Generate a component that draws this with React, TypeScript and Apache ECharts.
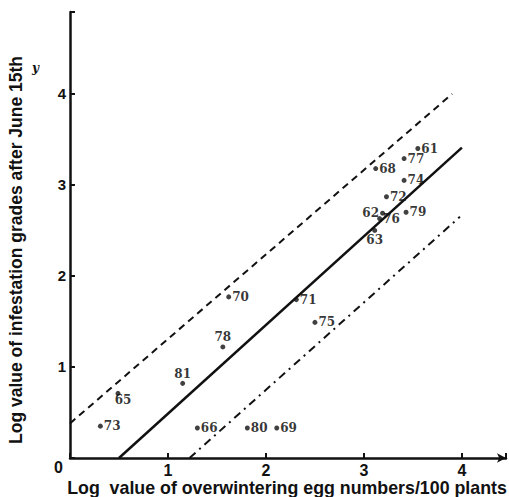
import React, { useEffect, useRef } from "react";
import * as echarts from "echarts";

// year labels and (log eggs, log infestation) readings
const years = ["61", "77", "68", "74", "72", "62", "76", "63", "79", "70", "71", "75", "78", "81", "66", "80", "69", "65", "73"];
const logEggs = [3.55, 3.41, 3.12, 3.41, 3.23, 3.19, 3.16, 3.11, 3.43, 1.62, 2.31, 2.5, 1.56, 1.15, 1.3, 1.81, 2.11, 0.49, 0.31];
const logInfest = [3.4, 3.29, 3.18, 3.05, 2.87, 2.69, 2.63, 2.5, 2.7, 1.77, 1.74, 1.49, 1.22, 0.82, 0.33, 0.33, 0.33, 0.71, 0.35];

// regression line and its bounds (end points)
const fitLine = [[0.5, 0], [4.0, 3.41]];
const upperBound = [[0, 0.38], [3.9, 4.0]];
const lowerBound = [[1.22, 0], [3.98, 2.65]];

const xTicks = ["0", "1", "2", "3", "4"];
const yTicks = ["0", "1", "2", "3", "4"];

const labelPlacement: Record<string, string> = {
  "78": "top",
  "81": "top",
  "63": "bottom",
  "65": "bottomRight",
  "62": "left",
};

export default function App() {
  const ref = useRef<HTMLDivElement>(null);
  useEffect(() => {
    if (!ref.current) return;
    const chart = echarts.init(ref.current, undefined, { renderer: "svg" });
    const pts = years.map((yr, i) => {
      const p = labelPlacement[yr] || "right";
      let label: any = { position: p };
      if (p === "bottomRight") label = { position: "bottom", offset: [5, -3] };
      if (p === "top") label = { position: "top", distance: 1 };
      if (p === "bottom") label = { position: "bottom", distance: 1 };
      return { value: [logEggs[i], logInfest[i]], name: yr, label };
    });
    const lineStyleBase = { color: "#111" };
    chart.setOption({
      animation: false,
      backgroundColor: "#fff",
      grid: { left: 70, top: 12, right: 3, bottom: 39 },
      xAxis: {
        type: "value",
        min: 0,
        max: 4.45,
        interval: 1,
        splitLine: { show: false },
        axisLine: { lineStyle: { color: "#111", width: 2.5 }, symbol: ["none", "arrow"], symbolSize: [7, 9] },
        axisTick: { inside: true, length: 5, lineStyle: { color: "#111", width: 2 } },
        axisLabel: {
          formatter: (v: number) => (v === 0 ? "" : xTicks[v] ?? ""),
          color: "#111",
          fontSize: 16,
          fontWeight: "bold",
          fontFamily: "Liberation Sans, Arial, sans-serif",
          margin: 4,
        },
      },
      yAxis: {
        type: "value",
        min: 0,
        max: 4.9,
        interval: 1,
        splitLine: { show: false },
        axisLine: { lineStyle: { color: "#111", width: 2.5 } },
        axisTick: { inside: true, length: 5, lineStyle: { color: "#111", width: 2 } },
        axisLabel: {
          formatter: (v: number) => (v === 0 ? "" : yTicks[v] ?? ""),
          color: "#111",
          fontSize: 15,
          fontWeight: "bold",
          fontFamily: "Liberation Sans, Arial, sans-serif",
          margin: 4,
        },
      },
      series: [
        {
          type: "line",
          data: fitLine,
          symbol: "none",
          lineStyle: { ...lineStyleBase, width: 2.5 },
        },
        {
          type: "line",
          data: upperBound,
          symbol: "none",
          lineStyle: { ...lineStyleBase, width: 2, type: [7, 5] },
        },
        {
          type: "line",
          data: lowerBound,
          symbol: "none",
          lineStyle: { ...lineStyleBase, width: 2, type: [8, 5, 2, 5] },
        },
        {
          type: "scatter",
          data: pts,
          symbol: "circle",
          symbolSize: 5,
          itemStyle: { color: "#111" },
          label: {
            show: true,
            formatter: (p: any) => p.name,
            color: "#000",
            fontSize: 12,
            fontWeight: "bold",
            fontFamily: "DejaVu Serif, serif",
            distance: 1,
          },
        },
      ],
      graphic: [
        {
          type: "text",
          left: 54,
          top: 459,
          style: { text: "0", fill: "#111", font: "bold 16px Liberation Sans, Arial, sans-serif" },
        },
        {
          type: "text",
          left: 32,
          top: 62,
          style: { text: "y", fill: "#111", font: "bold italic 12px DejaVu Serif, serif" },
        },
        {
          type: "text",
          x: 287,
          y: 488,
          style: {
            text: "Log  value of overwintering egg numbers/100 plants",
            fill: "#111",
            font: "bold 17.8px Liberation Sans, Arial, sans-serif",
            align: "center",
            verticalAlign: "middle",
          },
        },
        {
          type: "text",
          x: 16,
          y: 250,
          rotation: Math.PI / 2,
          style: {
            text: "Log value of infestation grades after June 15th",
            fill: "#111",
            font: "bold 17.5px Liberation Sans, Arial, sans-serif",
            align: "center",
            verticalAlign: "middle",
          },
        },
      ],
    });
    return () => chart.dispose();
  }, []);
  return <div ref={ref} style={{ position: "fixed", left: 0, top: 0, width: 509, height: 497 }} />;
}
